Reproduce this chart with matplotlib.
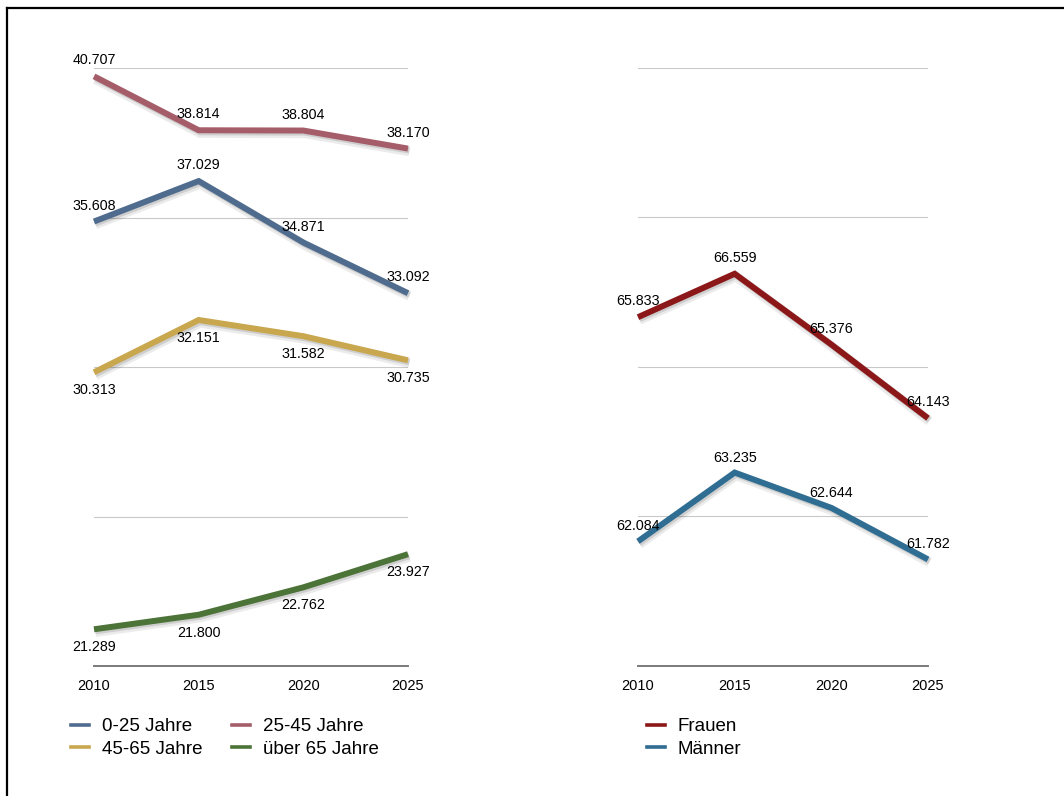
import numpy as np
import matplotlib
matplotlib.use("Agg")
import matplotlib.pyplot as plt
import matplotlib.patheffects as pe
from matplotlib.lines import Line2D

plt.rcParams["font.family"] = ["Liberation Sans", "DejaVu Sans"]

# --- Daten ---
years = [2010, 2015, 2020, 2025]
year_labels = ["2010", "2015", "2020", "2025"]

age_0_25 = [35.608, 37.029, 34.871, 33.092]
age_25_45 = [40.707, 38.814, 38.804, 38.170]
age_45_65 = [30.313, 32.151, 31.582, 30.735]
age_65_plus = [21.289, 21.800, 22.762, 23.927]

frauen = [65.833, 66.559, 65.376, 64.143]
maenner = [62.084, 63.235, 62.644, 61.782]

age_names = ["0-25 Jahre", "25-45 Jahre", "45-65 Jahre", "über 65 Jahre"]
sex_names = ["Frauen", "Männer"]

W, H = 1064, 796
fig = plt.figure(figsize=(W / 100, H / 100), dpi=100)


def px_axes(x0, x1, y_top, y_bot):
    return fig.add_axes([x0 / W, (H - y_bot) / H, (x1 - x0) / W, (y_bot - y_top) / H])


def style_axes(ax, ylim):
    ax.set_xlim(2010, 2025)
    ax.set_ylim(*ylim)
    ax.set_yticks(np.linspace(ylim[0], ylim[1], 5))
    ax.set_yticklabels([])
    ax.set_xticks(years)
    ax.set_xticklabels(year_labels, fontsize=10.5)
    ax.tick_params(length=0, pad=9)
    ax.grid(axis="y", color="#c9c9c9", linewidth=0.8)
    ax.grid(axis="x", visible=False)
    for s in ["top", "right", "left"]:
        ax.spines[s].set_visible(False)
    ax.spines["bottom"].set_color("#7a7a7a")
    ax.spines["bottom"].set_linewidth(1.4)
    ax.set_facecolor("none")


# weicher Schatten unter den Linien
shadow = [
    pe.SimpleLineShadow(offset=(1.0, -2.0), shadow_color="black", alpha=0.08, linewidth=7),
    pe.SimpleLineShadow(offset=(1.0, -1.5), shadow_color="black", alpha=0.12),
    pe.Normal(),
]


def draw_series(ax, values, color, dy):
    ax.plot(years, values, color=color, linewidth=4.3, solid_capstyle="butt",
            solid_joinstyle="miter", clip_on=False, zorder=3, path_effects=shadow)
    for xv, v in zip(years, values):
        ax.annotate(f"{v:.3f}", (xv, v), xytext=(0, dy), textcoords="offset pixels",
                    ha="center", va="center", fontsize=10.3, color="black", zorder=5)


# --- linkes Diagramm: Altersgruppen ---
ax1 = px_axes(94, 408, 68, 666)
style_axes(ax1, (20, 41))
c_0_25, c_25_45, c_45_65, c_65 = "#4f6b8d", "#a55e69", "#c9a74e", "#4c7338"
draw_series(ax1, age_25_45, c_25_45, 16)
draw_series(ax1, age_0_25, c_0_25, 16)
draw_series(ax1, age_45_65, c_45_65, -18)
draw_series(ax1, age_65_plus, c_65, -18)

# --- rechtes Diagramm: Geschlecht ---
ax2 = px_axes(638, 928, 68, 666)
style_axes(ax2, (60, 70))
c_fr, c_ma = "#8b1718", "#2f6d92"
draw_series(ax2, frauen, c_fr, 16)
draw_series(ax2, maenner, c_ma, 15)

# --- Legenden ---
def handle(c):
    return Line2D([], [], color=c, linewidth=2.6)


leg_kw = dict(frameon=False, fontsize=13.5, handlelength=0.95, handletextpad=0.7,
              labelspacing=0.3, borderaxespad=0, borderpad=0)
fig.legend([handle(c_0_25), handle(c_45_65), handle(c_25_45), handle(c_65)],
           [age_names[0], age_names[2], age_names[1], age_names[3]],
           ncol=2, columnspacing=1.6, loc="upper left",
           bbox_to_anchor=(71 / W, (H - 718) / H), **leg_kw)
fig.legend([handle(c_fr), handle(c_ma)], sex_names, ncol=1, loc="upper left",
           bbox_to_anchor=(647 / W, (H - 718) / H), **leg_kw)

# --- Rahmen oben und links ---
fig.add_artist(Line2D([7 / W, 7 / W], [0, (H - 8) / H], color="black", linewidth=1.6))
fig.add_artist(Line2D([7 / W, 1], [(H - 8) / H, (H - 8) / H], color="black", linewidth=1.6))

fig.savefig("out.png", dpi=100)
